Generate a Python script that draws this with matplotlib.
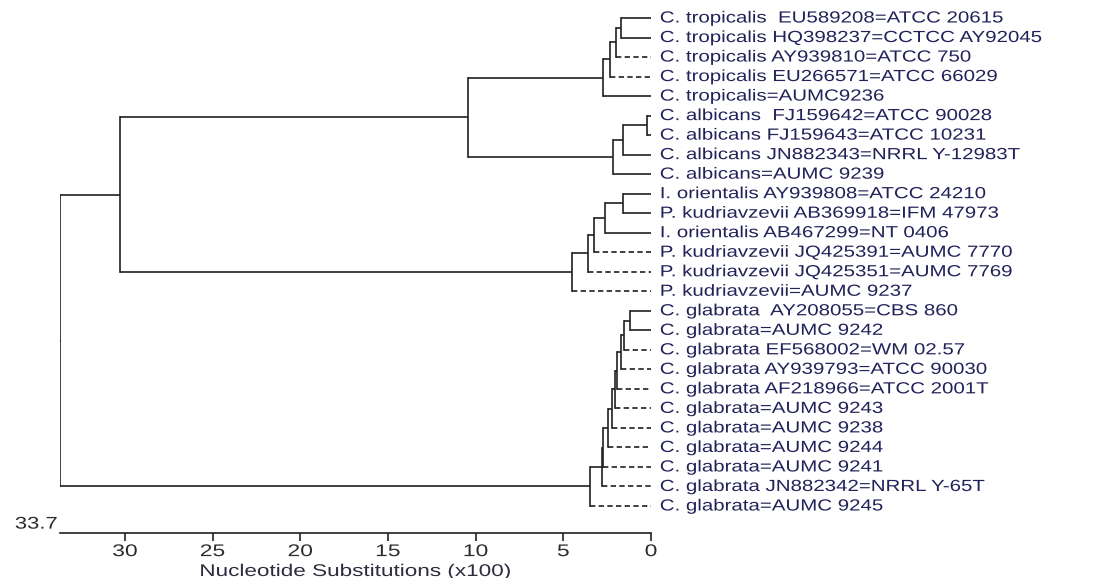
import matplotlib
matplotlib.use("Agg")
import matplotlib.pyplot as plt
from matplotlib.patheffects import AbstractPathEffect
from matplotlib.transforms import Affine2D

plt.rcParams['font.family'] = ['Liberation Sans', 'DejaVu Sans']

# leaf labels, top to bottom
leaves = [
    "C. tropicalis  EU589208=ATCC 20615",
    "C. tropicalis HQ398237=CCTCC AY92045",
    "C. tropicalis AY939810=ATCC 750",
    "C. tropicalis EU266571=ATCC 66029",
    "C. tropicalis=AUMC9236",
    "C. albicans  FJ159642=ATCC 90028",
    "C. albicans FJ159643=ATCC 10231",
    "C. albicans JN882343=NRRL Y-12983T",
    "C. albicans=AUMC 9239",
    "I. orientalis AY939808=ATCC 24210",
    "P. kudriavzevii AB369918=IFM 47973",
    "I. orientalis AB467299=NT 0406",
    "P. kudriavzevii JQ425391=AUMC 7770",
    "P. kudriavzevii JQ425351=AUMC 7769",
    "P. kudriavzevii=AUMC 9237",
    "C. glabrata  AY208055=CBS 860",
    "C. glabrata=AUMC 9242",
    "C. glabrata EF568002=WM 02.57",
    "C. glabrata AY939793=ATCC 90030",
    "C. glabrata AF218966=ATCC 2001T",
    "C. glabrata=AUMC 9243",
    "C. glabrata=AUMC 9238",
    "C. glabrata=AUMC 9244",
    "C. glabrata=AUMC 9241",
    "C. glabrata JN882342=NRRL Y-65T",
    "C. glabrata=AUMC 9245",
]
# leaves drawn with a dashed branch
dashed = [2, 3, 12, 13, 14, 17, 18, 19, 20, 21, 22, 23, 24, 25]

# merges: (child a, child b, height in x100 substitutions); new node ids start at len(leaves)
merges = [
    (0, 1, 1.73), (26, 2, 2.01), (27, 3, 2.34), (28, 4, 2.72),
    (5, 6, 0.21), (30, 7, 1.61), (31, 8, 2.18),
    (29, 32, 10.44),
    (9, 10, 1.61), (34, 11, 2.62), (35, 12, 3.23), (36, 13, 3.57), (37, 14, 4.52),
    (33, 38, 30.26),
    (15, 16, 1.2), (40, 17, 1.52), (41, 18, 1.73), (42, 19, 1.95), (43, 20, 2.05),
    (44, 21, 2.21), (45, 22, 2.44), (46, 23, 2.72), (47, 24, 2.8), (48, 25, 3.48),
    (39, 49, 33.7),
]
xticks = [0, 5, 10, 15, 20, 25, 30]
root_label = "33.7"
xlabel = "Nucleotide Substitutions (x100)"


class Widen(AbstractPathEffect):
    # the reference text is stretched sideways, draw glyphs wider
    def __init__(self, sx, anchor='left'):
        super().__init__()
        self.sx = sx
        self.anchor = anchor

    def draw_path(self, renderer, gc, tpath, affine, rgbFace=None):
        ext = tpath.get_extents()
        if self.anchor == 'left':
            x0 = 0
        elif self.anchor == 'right':
            x0 = ext.x1
        else:
            x0 = (ext.x0 + ext.x1) / 2
        t = Affine2D().translate(-x0, 0).scale(self.sx, 1).translate(x0, 0)
        renderer.draw_path(gc, tpath, t + affine, rgbFace)


W, H = 1096, 578
fig = plt.figure(figsize=(W / 100, H / 100), dpi=100)

# pixel layout of the tree
px_root, px_zero = 60, 651
py_first, py_step, py_axis = 18, 19.52, 533
upx = (px_zero - px_root) / 33.7
x_right = -(W - 7 - px_zero) / upx
y_top = -py_first / py_step
y_bot = (py_axis - py_first) / py_step

ax = fig.add_axes([px_root / W, (H - py_axis) / H, (W - 7 - px_root) / W, py_axis / H])
ax.set_xlim(33.7, x_right)
ax.set_ylim(y_bot, y_top)

line_c = '#202020'
lw = 1.2
pos = {i: (0.0, float(i)) for i in range(len(leaves))}
nid = len(leaves)
for a, b, h in merges:
    for c in (a, b):
        ch, cy = pos[c]
        ls = (0, (3.2, 2.0)) if c in dashed else '-'
        ax.plot([h, ch], [cy, cy], color=line_c, lw=lw, ls=ls, solid_capstyle='butt')
    ya, yb = pos[a][1], pos[b][1]
    ax.plot([h, h], [ya, yb], color=line_c, lw=lw, solid_capstyle='projecting')
    pos[nid] = (h, (ya + yb) / 2)
    nid += 1

# small stub at the root
rh, ry = pos[nid - 1]
ax.plot([rh, rh + 0.45], [ry, ry], color=line_c, lw=lw)

txt_c = '#22225a'
for i, lab in enumerate(leaves):
    ax.text(-0.5, i, lab, ha='left', va='center', fontsize=11.6, color=txt_c,
            path_effects=[Widen(1.27)])

for s in ['top', 'right', 'left']:
    ax.spines[s].set_visible(False)
ax.spines['bottom'].set_bounds(0, 33.7)
ax.spines['bottom'].set_color(line_c)
ax.spines['bottom'].set_linewidth(lw)
ax.set_yticks([])
ax.set_xticks(xticks)
ax.set_xticklabels([str(t) for t in xticks])
ax.tick_params(axis='x', direction='out', length=5.5, width=lw, color=line_c,
               labelsize=12.2, labelcolor='#2c2c2c', pad=2.5)
plt.setp(ax.get_xticklabels(), path_effects=[Widen(1.35, 'center')])

ax.annotate(root_label, xy=(33.7, 0), xycoords=('data', 'axes fraction'),
            xytext=(-2, 1), textcoords='offset points', ha='right', va='bottom',
            fontsize=12.2, color='#2c2c2c', path_effects=[Widen(1.3, 'right')])

xl0, xl1 = ax.get_xlim()
ax.set_xlabel(xlabel, fontsize=12.2, color='#2c2c3c')
ax.xaxis.set_label_coords((xl0 - 33.7 / 2) / (xl0 - xl1), -31 / py_axis)
ax.xaxis.label.set_path_effects([Widen(1.33, 'center')])

fig.savefig("out.png", dpi=100)
